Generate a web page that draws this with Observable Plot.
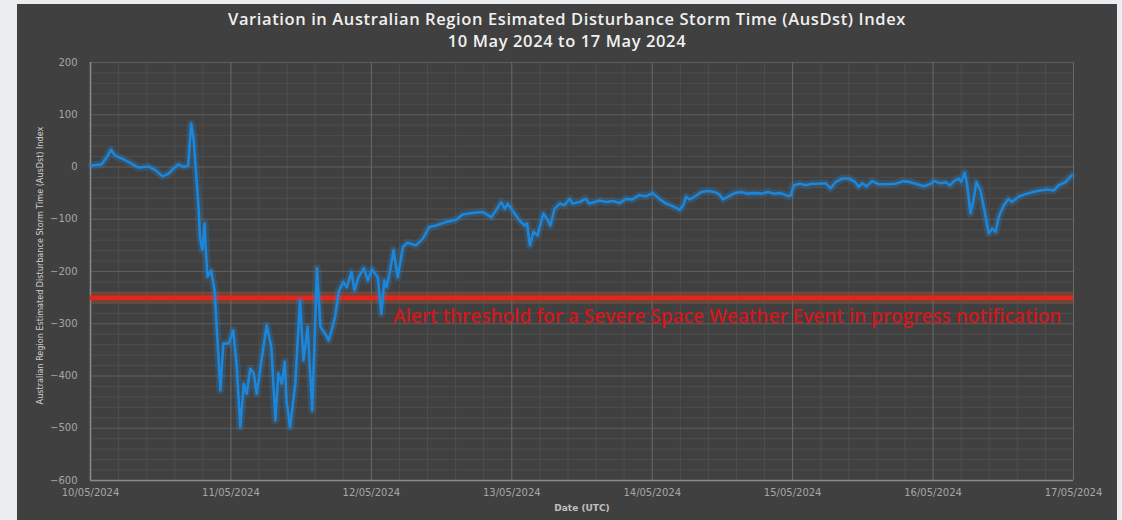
<!DOCTYPE html>
<html><head><meta charset="utf-8">
<script src="https://cdn.jsdelivr.net/npm/d3@7"></script>
<script src="https://cdn.jsdelivr.net/npm/@observablehq/plot@0.6"></script>
<style>
html,body{margin:0;padding:0;background:#eaeef0;width:1122px;height:520px;overflow:hidden;}
#panel{position:absolute;left:17px;top:4px;width:1100px;height:530px;background:#404040;}
#title{height:48px;text-align:center;color:#f0f0f0;font-family:"Open Sans",sans-serif;font-weight:600;font-size:16.5px;letter-spacing:0.6px;line-height:22px;padding-top:4px;box-sizing:border-box;}
#chart svg{display:block;}
</style>
</head><body>
<div id="panel">
  <div id="title">Variation in Australian Region Esimated Disturbance Storm Time (AusDst) Index<br>10 May 2024 to 17 May 2024</div>
  <div id="chart"></div>
</div>
<script>
// Hours since 10/05/2024 00:00 UTC
const hours = [0.2,1.9,2.8,3.5,4.2,5.4,6.8,8.2,9.9,11.1,12.3,13.3,14.2,15,15.9,16.7,17.2,17.6,18,18.5,18.7,19.1,19.5,19.7,20.0,20.6,21.2,21.6,22.2,22.7,23.6,24.2,
24.4,25,25.6,26.2,26.7,27.3,27.9,28.4,29.3,30.1,30.9,31.6,32.1,32.7,33.2,33.5,34.1,35,35.8,36.4,37.1,37.9,38.7,39.3,40.1,40.7,41.2,41.8,42.4,43.2,43.8,44.6,45.1,45.8,46.7,47.4,48.1,
49.1,49.7,50.2,50.6,51.1,51.8,52.5,53.4,54.2,55.6,56.8,57.9,59.1,60.8,62.5,63.6,65.3,67.0,68.5,69.3,70.2,70.8,71.3,72.3,
73.3,74.2,74.6,75.1,75.7,76.4,77.4,78,78.6,79.3,80.2,81,81.9,82.4,83.6,84.6,85.3,87,88.1,89.3,90.4,91.5,92.6,93.8,94.9,96.1,97.2,98.4,99.5,100.7,101.3,101.8,102.4,103.2,104.4,105.5,106.6,107.4,108.1,108.9,110.1,111.2,112.3,113.5,114.6,115.8,116.9,118,119.3,119.7,
120.2,121.3,122.2,123.3,124.4,125.6,126.5,127.3,128.5,129.6,130.7,131.3,131.9,132.6,133.6,134.7,136.2,137.6,138.9,140.1,141.3,142.4,143.6,144.1,145.3,146.1,146.9,147.6,148.4,148.8,149.4,149.8,150.4,150.9,151.4,152.1,153,153.5,154.1,154.7,155.2,156.1,156.9,157.5,158.6,160,161.8,163.5,164.6,165.5,166.6,167.7];
const ausDst = [3,5,19,33,22,16,8,-1,1,-6,-18,-13,-3,5,0,3,83,57,-6,-83,-134,-159,-108,-159,-210,-198,-236,-313,-427,-338,-338,-319,
-313,-383,-498,-415,-434,-386,-395,-434,-364,-303,-344,-485,-395,-415,-373,-447,-498,-415,-255,-370,-306,-466,-194,-306,-319,-332,-313,-287,-239,-220,-230,-201,-236,-211,-194,-217,-196,
-211,-281,-217,-230,-204,-159,-211,-153,-145,-150,-137,-115,-112,-105,-101,-91,-88,-86,-96,-83,-67,-80,-70,-86,
-102,-112,-108,-150,-124,-131,-89,-99,-112,-80,-70,-73,-61,-70,-67,-61,-70,-64,-67,-65,-69,-61,-62,-54,-56,-50,-61,-70,-75,-82,-73,-57,-62,-57,-48,-46,-48,-52,-62,-57,-50,-48,-51,-50,-51,-48,-51,-50,-56,-54,
-35,-32,-35,-32,-32,-31,-41,-29,-22,-22,-29,-38,-31,-37,-27,-33,-33,-32,-27,-29,-33,-37,-32,-27,-31,-29,-35,-27,-22,-29,-11,-32,-89,-64,-29,-45,-96,-127,-118,-124,-96,-73,-61,-67,-57,-51,-46,-43,-45,-35,-29,-16];
const xTickLabels = ["10/05/2024","11/05/2024","12/05/2024","13/05/2024","14/05/2024","15/05/2024","16/05/2024","17/05/2024"];
const yTicks = [200,100,0,-100,-200,-300,-400,-500,-600];
const threshold = -250;
const thresholdLabel = "Alert threshold for a Severe Space Weather Event in progress notification";
const yLabel = "Australian Region Estimated Disturbance Storm Time (AusDst) Index";
const xLabel = "Date (UTC)";

const t0 = Date.UTC(2024,4,10);
const H = 3600e3;
const data = hours.map((h,i) => ({date: new Date(t0 + h*H), v: ausDst[i]}));
const parse = d3.utcParse("%d/%m/%Y");
const xTicks = xTickLabels.map(parse);
const start = xTicks[0], end = xTicks[xTicks.length-1];
const xMinor = d3.range(0, 7*24 + 0.01, 4.8).map(h => new Date(t0 + h*H)).filter(d => (d - t0) % (24*H) !== 0);
const yMinor = d3.range(-600, 201, 20).filter(v => v % 100 !== 0);
const labelDate = new Date(t0 + (48 + 3.7)*H);

const chart = Plot.plot({
  width: 1100, height: 468,
  marginLeft: 73, marginRight: 44, marginTop: 10, marginBottom: 40,
  style: {background: "transparent", color: "#a6a6a6", fontFamily: "DejaVu Sans", fontSize: "10px"},
  x: {type: "utc", domain: [start, end]},
  y: {domain: [-600, 200]},
  marks: [
    Plot.ruleY(yMinor, {stroke: "#4d4d4d", strokeWidth: 1}),
    Plot.ruleX(xMinor, {stroke: "#4d4d4d", strokeWidth: 1}),
    Plot.ruleY(yTicks, {stroke: "#5e5e5e", strokeWidth: 1}),
    Plot.ruleX(xTicks, {stroke: "#6a6a6a", strokeWidth: 1}),
    Plot.ruleX([start], {stroke: "#8c8c8c", strokeWidth: 1.5}),
    Plot.ruleY([-600], {stroke: "#8c8c8c", strokeWidth: 1.5}),
    Plot.axisX(xTicks, {tickFormat: d3.utcFormat("%d/%m/%Y"), tickSize: 0, tickPadding: 8, label: null, fill: "#a6a6a6"}),
    Plot.axisY(yTicks, {tickSize: 0, tickPadding: 13, label: null, fill: "#a6a6a6"}),
    Plot.ruleY([threshold], {stroke: "#b8542a", strokeWidth: 12, strokeOpacity: 0.35}),
    Plot.ruleY([threshold], {stroke: "#e8231b", strokeWidth: 4.5}),
    Plot.line(data, {x: "date", y: "v", stroke: "#1f8be0", strokeWidth: 8, strokeOpacity: 0.22, curve: "linear"}),
    Plot.line(data, {x: "date", y: "v", stroke: "#1a86dc", strokeWidth: 2.6, curve: "linear"}),
    Plot.text([thresholdLabel], {x: () => labelDate, y: () => threshold, text: d => d, textAnchor: "start", lineAnchor: "middle", dy: 19, fill: "#d0181c", fontSize: 19, fontWeight: 600, fontFamily: "Open Sans"}),
    Plot.text([yLabel], {frameAnchor: "left", rotate: -90, dx: -50, dy: -6, text: d => d, textAnchor: "middle", fill: "#d0d0d0", fontSize: 9, fontFamily: "DejaVu Sans Condensed", lineAnchor: "middle"}),
    Plot.text([xLabel], {frameAnchor: "bottom", dy: 28, text: d => d, fill: "#c0c0c0", fontSize: 9, fontWeight: "bold", lineAnchor: "middle"})
  ]
});
document.getElementById("chart").appendChild(chart);
</script>
</body></html>
